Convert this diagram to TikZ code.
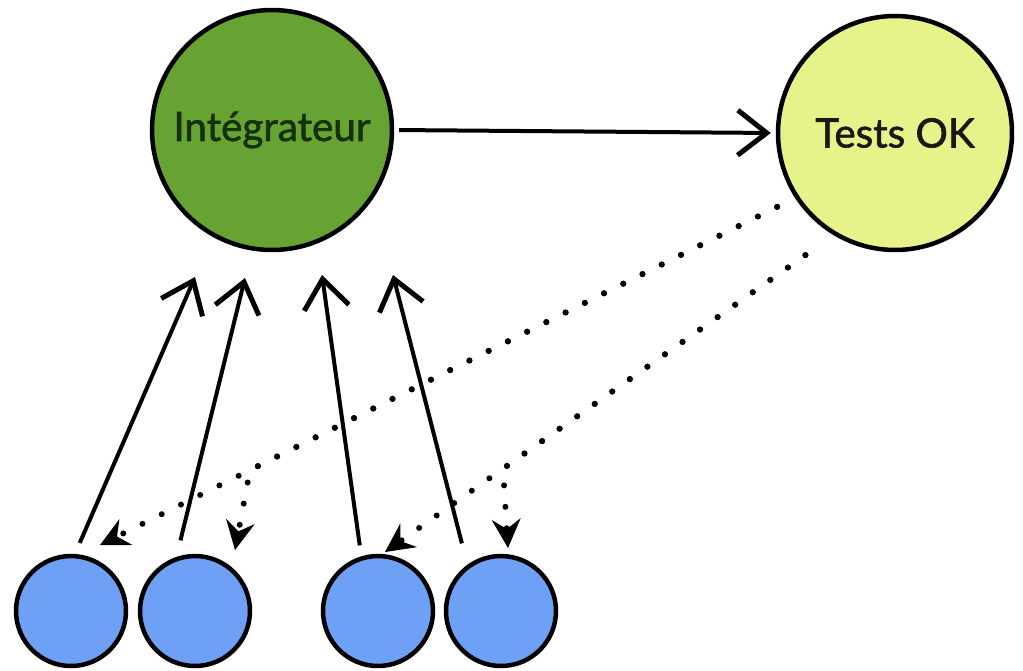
\documentclass[tikz,border=0pt]{standalone}
\usepackage{fontspec}
\setmainfont{Lato}
\newfontfamily\medfont[FakeBold=1.5]{Lato}
\usetikzlibrary{arrows.meta}
\definecolor{gfill}{RGB}{102,163,50}
\definecolor{gtext}{RGB}{22,48,10}
\definecolor{yfill}{RGB}{232,242,138}
\definecolor{ytext}{RGB}{25,25,20}
\definecolor{bfill}{RGB}{110,160,245}
\begin{document}
\begin{tikzpicture}[x=0.02cm,y=-0.02cm,
  circ/.style={circle, draw=black, line width=0.09cm, inner sep=0pt, font=\medfont\fontsize{23}{23}\selectfont},
  bluec/.style={circ, fill=bfill, minimum size=2.2cm},
  sarrow/.style={line width=0.08cm, -{Straight Barb[length=0.58cm,width=0.9cm,line width=0.1cm]}},
  darrow/.style={line width=0.12cm, line cap=round, dash pattern=on 0pt off 0.43cm,
    -{Stealth[length=0.58cm,width=0.58cm,inset=0.2cm,line width=0.02cm]}}
]
\useasboundingbox (0,0) rectangle (1023,670);
\node[circ, fill=gfill, minimum size=4.8cm, text=gtext] (G) at (272,130) {Intégrateur};
\node[circ, fill=yfill, minimum size=4.68cm, text=ytext] (Y) at (895,133) {Tests OK};
\node[bluec] (b1) at (71,611) {};
\node[bluec] (b2) at (195,611) {};
\node[bluec] (b3) at (378,611) {};
\node[bluec] (b4) at (501,611) {};
% arrow tips below the integrator
\coordinate (t1) at (195,277);
\coordinate (t2) at (245,278);
\coordinate (t3) at (322,275);
\coordinate (t4) at (393,275);
% dotted arrow ends and forks
\coordinate (u1) at (100,545);
\coordinate (u2) at (235,550);
\coordinate (u3) at (385,552);
\coordinate (u4) at (508,548);
\coordinate (f1) at (250,470);
\coordinate (f2) at (503,468.7);
% solid arrows
\draw[sarrow, shorten <=0.24cm] (b1.86) -- (t1);
\draw[sarrow, shorten <=0.34cm] (b2.109) -- (t2);
\draw[sarrow, shorten <=0.22cm] (b3.107) -- (t3);
\draw[sarrow, shorten <=0.44cm] (b4.126) -- (t4);
\draw[sarrow, shorten <=0.1cm, shorten >=0.1cm] (G.east) -- (Y.west);
% dotted arrows
\draw[darrow, shorten <=0.4cm] (Y.213) -- (u1);
\draw[darrow, shorten <=0.4cm] (Y.213) -- (f1) -- (u2);
\draw[darrow, shorten <=0.69cm] (Y.239) -- (u3);
\draw[darrow, shorten <=0.69cm] (Y.239) -- (f2) -- (u4);
\end{tikzpicture}
\end{document}
